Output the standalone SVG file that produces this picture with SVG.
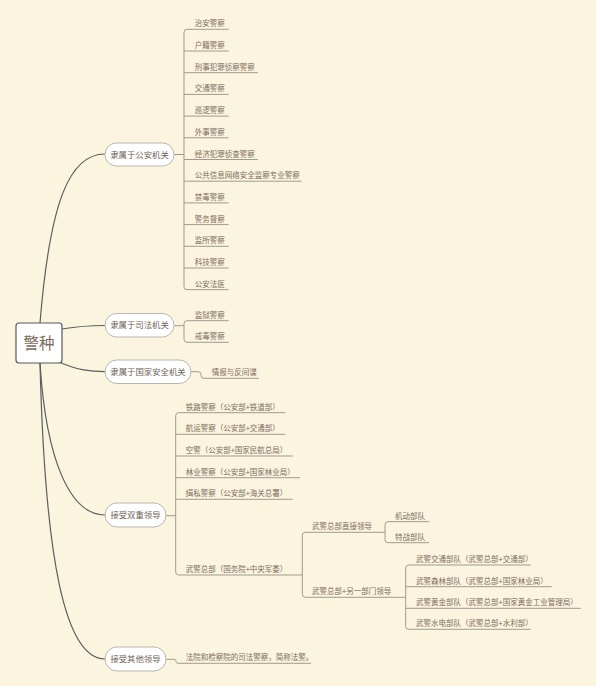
<svg xmlns="http://www.w3.org/2000/svg" width="600" height="691" viewBox="0 0 600 691">
<style>
.bg{fill:#fbf4de}
.curve{fill:none;stroke:#5a5f5f;stroke-width:1.2}
.ln{fill:none;stroke:#a19b8e;stroke-width:1}
.leaf{font-family:"Noto Sans CJK SC","Noto Sans",sans-serif;font-size:7.5px;fill:#7d6d5f}
.p{font-family:"Noto Sans CJK TC","Noto Sans CJK SC",sans-serif}
.pill{fill:#ffffff;stroke:#b9b6ae;stroke-width:1}
.bt{font-family:"Noto Sans CJK SC","Noto Sans",sans-serif;font-size:8.4px;fill:#6f6255;text-anchor:middle}
.root{fill:#ffffff;stroke:#555a5a;stroke-width:1.2}
.rt{font-family:"Noto Sans CJK SC","Noto Sans",sans-serif;font-size:15.5px;fill:#7a6a5c;text-anchor:middle}
</style>
<rect x="0" y="0" width="600" height="691" fill="#ffffff"/>
<rect class="bg" x="0" y="0" width="596" height="686"/>
<g id="connectors">
<path class="curve" d="M40,323 C50,200 70,154 105,154"/>
<path class="curve" d="M62,329 C80,326 90,325.5 105,325.5"/>
<path class="curve" d="M60,362.5 C78,370 90,371.7 105,371.7"/>
<path class="curve" d="M40,363 C46,460 70,515 105,515"/>
<path class="curve" d="M40,363 C45,560 65,659 105,659"/>
<path class="ln" d="M174,154.5 H184"/>
<path class="ln" d="M228.7,29.3 H187 Q184,29.3 184,32.3 V286.7 Q184,289.7 187,289.7 H228.7"/>
<path class="ln" d="M184,51 H228.7 M184,72.7 H258 M184,94.4 H228.7 M184,116.1 H228.7 M184,137.8 H228.7 M184,159.5 H258 M184,181.2 H301.7 M184,202.9 H228.7 M184,224.6 H228.7 M184,246.3 H228.7 M184,268 H228.7"/>
<path class="ln" d="M174,325.7 H184"/>
<path class="ln" d="M228.7,320.7 H187 Q184,320.7 184,323.7 V339.3 Q184,342.3 187,342.3 H228.7"/>
<path class="ln" d="M191,371.7 H198 Q201,371.7 201,374.7 V375.3 Q201,378.3 204,378.3 H259"/>
<path class="ln" d="M166,515.7 H175.7"/>
<path class="ln" d="M285.3,412.7 H178.7 Q175.7,412.7 175.7,415.7 V572 Q175.7,575 178.7,575 H302.3"/>
<path class="ln" d="M175.7,434.3 H285.3 M175.7,456 H292.7 M175.7,477.7 H300 M175.7,499.3 H292.7"/>
<path class="ln" d="M385,532.3 H305.3 Q302.3,532.3 302.3,535.3 V594.3 Q302.3,597.3 305.3,597.3 H405.7"/>
<path class="ln" d="M429.3,521.7 H388 Q385,521.7 385,524.7 V539.7 Q385,542.7 388,542.7 H429.3"/>
<path class="ln" d="M530.7,565 H408.7 Q405.7,565 405.7,568 V626.3 Q405.7,629.3 408.7,629.3 H530.7"/>
<path class="ln" d="M405.7,586.7 H551.7 M405.7,608.3 H580.7"/>
<path class="ln" d="M166,659.3 H174 Q176,659.3 176,661.3 Q176,663.3 178,663.3 H311"/>
</g>
<g id="root">
<rect class="root" x="16" y="323" width="46" height="40" rx="3"/>
<text class="rt" x="39" y="349">警种</text>
</g>
<g id="b1">
<rect class="pill" x="105" y="143" width="69" height="23" rx="11.5"/>
<text class="bt" x="139.5" y="157.5">隶属于公安机关</text>
</g>
<g id="b1-leaves">
<text class="leaf" x="194.7" y="26.3">治安警察</text>
<text class="leaf" x="194.7" y="48">户籍警察</text>
<text class="leaf" x="194.7" y="69.7">刑事犯罪侦察警察</text>
<text class="leaf" x="194.7" y="91.4">交通警察</text>
<text class="leaf" x="194.7" y="113.1">巡逻警察</text>
<text class="leaf" x="194.7" y="134.8">外事警察</text>
<text class="leaf" x="194.7" y="156.5">经济犯罪侦查警察</text>
<text class="leaf" x="194.7" y="178.2">公共信息网络安全监察专业警察</text>
<text class="leaf" x="194.7" y="199.9">禁毒警察</text>
<text class="leaf" x="194.7" y="221.6">警务督察</text>
<text class="leaf" x="194.7" y="243.3">监所警察</text>
<text class="leaf" x="194.7" y="265">科技警察</text>
<text class="leaf" x="194.7" y="286.7">公安法医</text>
</g>
<g id="b2">
<rect class="pill" x="105" y="313.5" width="69" height="23.5" rx="11.75"/>
<text class="bt" x="139.5" y="328.3">隶属于司法机关</text>
</g>
<g id="b2-leaves">
<text class="leaf" x="194.7" y="317.7">监狱警察</text>
<text class="leaf" x="194.7" y="339.3">戒毒警察</text>
</g>
<g id="b3">
<rect class="pill" x="105" y="360" width="86" height="23.5" rx="11.75"/>
<text class="bt" x="148" y="374.8">隶属于国家安全机关</text>
</g>
<g id="b3-leaves">
<text class="leaf" x="211.7" y="375.3">情报与反间谍</text>
</g>
<g id="b4">
<rect class="pill" x="105" y="503" width="61" height="24" rx="12"/>
<text class="bt" x="135.5" y="518">接受双重领导</text>
</g>
<g id="b4-leaves">
<text class="leaf" x="185.7" y="409.7">铁路警察<tspan class="p">（</tspan>公安部+铁道部<tspan class="p">）</tspan></text>
<text class="leaf" x="185.7" y="431.3">航运警察<tspan class="p">（</tspan>公安部+交通部<tspan class="p">）</tspan></text>
<text class="leaf" x="185.7" y="453">空警<tspan class="p">（</tspan>公安部+国家民航总局<tspan class="p">）</tspan></text>
<text class="leaf" x="185.7" y="474.7">林业警察<tspan class="p">（</tspan>公安部+国家林业局<tspan class="p">）</tspan></text>
<text class="leaf" x="185.7" y="496.3">缉私警察<tspan class="p">（</tspan>公安部+海关总署<tspan class="p">）</tspan></text>
<text class="leaf" x="185.7" y="572">武警总部<tspan class="p">（</tspan>国务院+中央军委<tspan class="p">）</tspan></text>
</g>
<g id="wj-sub">
<text class="leaf" x="312" y="529.3">武警总部直接领导</text>
<text class="leaf" x="312" y="594.3">武警总部+另一部门领导</text>
<text class="leaf" x="395" y="518.7">机动部队</text>
<text class="leaf" x="395" y="539.7">特战部队</text>
<text class="leaf" x="416" y="562">武警交通部队<tspan class="p">（</tspan>武警总部+交通部<tspan class="p">）</tspan></text>
<text class="leaf" x="416" y="583.7">武警森林部队<tspan class="p">（</tspan>武警总部+国家林业局<tspan class="p">）</tspan></text>
<text class="leaf" x="416" y="605.3">武警黄金部队<tspan class="p">（</tspan>武警总部+国家黄金工业管理局<tspan class="p">）</tspan></text>
<text class="leaf" x="416" y="626.3">武警水电部队<tspan class="p">（</tspan>武警总部+水利部<tspan class="p">）</tspan></text>
</g>
<g id="b5">
<rect class="pill" x="105" y="647" width="61" height="24" rx="12"/>
<text class="bt" x="135.5" y="662">接受其他领导</text>
</g>
<g id="b5-leaves">
<text class="leaf" x="185.7" y="660.3">法院和检察院的司法警察，简称法警。</text>
</g>
</svg>
